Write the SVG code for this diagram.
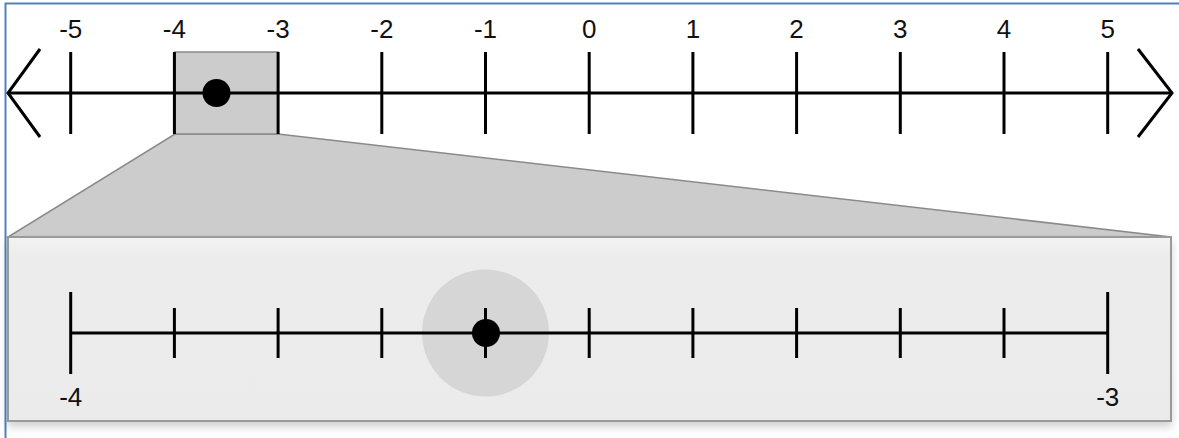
<svg xmlns="http://www.w3.org/2000/svg" width="1179" height="438" viewBox="0 0 1179 438">
<style>
.ax{stroke:#000;stroke-width:3;fill:none;stroke-linecap:butt}
.tk line{stroke:#000;stroke-width:3}
.lb text{font-family:"Liberation Sans",Arial,sans-serif;font-size:26px;fill:#111;text-anchor:middle}
</style>
<defs>
<linearGradient id="zoomFill" x1="0" y1="0" x2="0" y2="1">
<stop offset="0" stop-color="#f3f3f3"/>
<stop offset="0.1" stop-color="#ececec"/>
<stop offset="1" stop-color="#ebebeb"/>
</linearGradient>
<filter id="sh" x="-5%" y="-5%" width="110%" height="120%">
<feGaussianBlur in="SourceAlpha" stdDeviation="4"/>
<feOffset dy="5"/>
<feComponentTransfer><feFuncA type="linear" slope="0.18"/></feComponentTransfer>
<feMerge><feMergeNode/><feMergeNode in="SourceGraphic"/></feMerge>
</filter>
</defs>
<rect width="1179" height="438" fill="#fff"/>
<path d="M5.5 438 V3.5 H1179" fill="none" stroke="#4f81bd" stroke-width="2"/>

<g id="zoom-projection">
<polygon points="175,134 278,134 1171,237 8,237" fill="#cccccc" stroke="#8a8a8a" stroke-width="1.5"/>
</g>
<g id="zoom-panel">
<rect x="8" y="237" width="1163" height="184" fill="url(#zoomFill)" stroke="#9a9a9a" stroke-width="2" filter="url(#sh)"/>
</g>
<g id="highlight-window">
<rect x="175" y="52" width="103" height="82" fill="#cccccc" stroke="#8a8a8a" stroke-width="1.5"/>
</g>

<g id="top-number-line">
<line class="ax" x1="8" y1="93" x2="1172" y2="93"/>
<polyline class="ax" points="40,49 8,93 40,137"/>
<polyline class="ax" points="1138,49 1172,93 1138,137"/>
<g class="tk">
<line x1="70.7" y1="52" x2="70.7" y2="134"/>
<line x1="174.4" y1="52" x2="174.4" y2="134"/>
<line x1="278.1" y1="52" x2="278.1" y2="134"/>
<line x1="381.8" y1="52" x2="381.8" y2="134"/>
<line x1="485.5" y1="52" x2="485.5" y2="134"/>
<line x1="589.2" y1="52" x2="589.2" y2="134"/>
<line x1="692.9" y1="52" x2="692.9" y2="134"/>
<line x1="796.6" y1="52" x2="796.6" y2="134"/>
<line x1="900.3" y1="52" x2="900.3" y2="134"/>
<line x1="1004" y1="52" x2="1004" y2="134"/>
<line x1="1107.7" y1="52" x2="1107.7" y2="134"/>
</g>
<g class="lb">
<text x="70.7" y="38">-5</text>
<text x="174.4" y="38">-4</text>
<text x="278.1" y="38">-3</text>
<text x="381.8" y="38">-2</text>
<text x="485.5" y="38">-1</text>
<text x="589.2" y="38">0</text>
<text x="692.9" y="38">1</text>
<text x="796.6" y="38">2</text>
<text x="900.3" y="38">3</text>
<text x="1004" y="38">4</text>
<text x="1107.7" y="38">5</text>
</g>
<circle cx="216.5" cy="93" r="14" fill="#000"/>
</g>

<g id="bottom-number-line">
<circle cx="485.5" cy="333" r="63.5" fill="#d6d6d6"/>
<line class="ax" x1="70.7" y1="333" x2="1107.7" y2="333"/>
<g class="tk">
<line x1="70.7" y1="292" x2="70.7" y2="374"/>
<line x1="174.4" y1="308" x2="174.4" y2="358"/>
<line x1="278.1" y1="308" x2="278.1" y2="358"/>
<line x1="381.8" y1="308" x2="381.8" y2="358"/>
<line x1="485.5" y1="308" x2="485.5" y2="358"/>
<line x1="589.2" y1="308" x2="589.2" y2="358"/>
<line x1="692.9" y1="308" x2="692.9" y2="358"/>
<line x1="796.6" y1="308" x2="796.6" y2="358"/>
<line x1="900.3" y1="308" x2="900.3" y2="358"/>
<line x1="1004" y1="308" x2="1004" y2="358"/>
<line x1="1107.7" y1="292" x2="1107.7" y2="374"/>
</g>
<circle cx="486" cy="333" r="14" fill="#000"/>
<g class="lb">
<text x="70.7" y="406">-4</text>
<text x="1107.7" y="406">-3</text>
</g>
</g>
</svg>
